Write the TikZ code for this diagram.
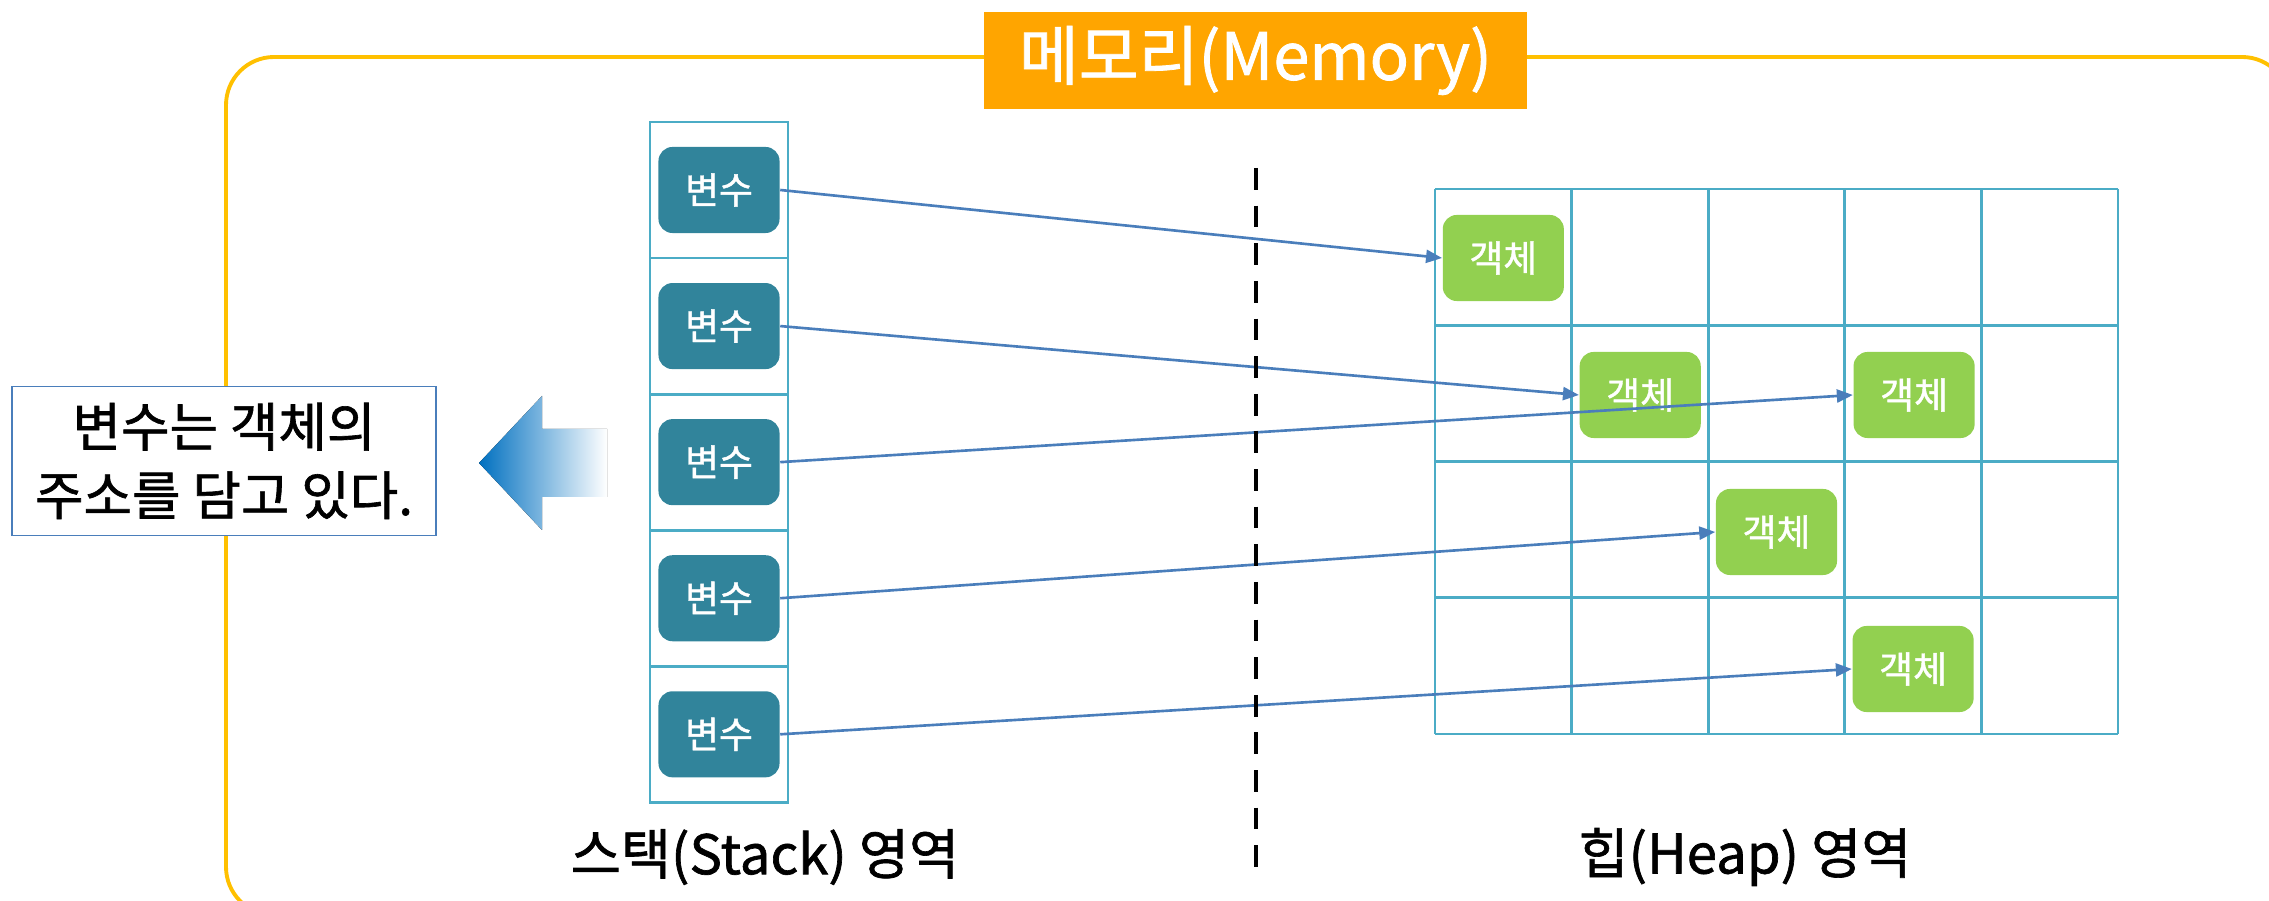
\documentclass[tikz,border=0pt]{standalone}
\usepackage{fontspec}
\setmainfont{Noto Sans CJK KR}[FakeBold=1.2]
\usepackage{tikz}
\usetikzlibrary{arrows.meta, positioning, shapes.geometric}
\definecolor{frameGold}{HTML}{FFC000}
\definecolor{titleOrange}{HTML}{FFA500}
\definecolor{cellBlue}{HTML}{4BACC6}
\definecolor{varTeal}{HTML}{31849B}
\definecolor{objGreen}{HTML}{92D050}
\definecolor{linkBlue}{HTML}{4A7EBB}
\definecolor{noteBlue}{HTML}{0070C0}

\begin{document}
\begin{tikzpicture}[
    x=0.01cm, y=-0.01cm,
    frame/.style={draw=frameGold, line width=1.1pt, rounded corners=0.48cm},
    title/.style={fill=titleOrange, text=white, font=\fontsize{18.5}{22}\selectfont,
                  minimum width=5.43cm, minimum height=0.97cm, inner sep=0pt},
    cell/.style={draw=cellBlue, line width=0.8pt, minimum width=1.38cm,
                 minimum height=1.36cm, inner sep=0pt, outer sep=0pt},
    var/.style={fill=varTeal, text=white, rounded corners=0.14cm,
                font=\fontsize{10.5}{12}\selectfont,
                minimum width=1.21cm, minimum height=0.86cm, inner sep=0pt},
    obj/.style={fill=objGreen, text=white, rounded corners=0.14cm,
                font=\fontsize{10.5}{12}\selectfont,
                minimum width=1.21cm, minimum height=0.86cm, inner sep=0pt},
    area/.style={font=\fontsize{15.5}{18}\selectfont, inner sep=0pt},
    note/.style={draw=linkBlue, fill=white, line width=0.5pt, align=center,
                 font=\fontsize{15}{19.5}\selectfont,
                 minimum width=4.24cm, minimum height=1.49cm},
    link/.style={-{Triangle[length=1.6mm, width=1.3mm]}, draw=linkBlue, line width=0.75pt},
    divider/.style={line width=1.25pt, dash pattern=on 6.2pt off 4.5pt},
]
\useasboundingbox (0,0) rectangle (2269,901);

% outer memory frame, cut off at the page edge
\begin{scope}
  \clip (0,0) rectangle (2269,901);
  \draw[frame] (226,57) rectangle (2290,915);
\end{scope}

\node[title] (mem) at (1255.5,60.5) {메모리(Memory)};

% stack column
\node[cell] (s1) at (719,190) {};
\node[cell, below=0pt of s1] (s2) {};
\node[cell, below=0pt of s2] (s3) {};
\node[cell, below=0pt of s3] (s4) {};
\node[cell, below=0pt of s4] (s5) {};

\node[var] (v1) at (s1) {변수};
\node[var] (v2) at (s2) {변수};
\node[var] (v3) at (s3) {변수};
\node[var] (v4) at (s4) {변수};
\node[var] (v5) at (s5) {변수};

% heap grid, 5 x 4 cells
\foreach \i in {0,...,5}
  \draw[cellBlue, line width=0.8pt] (1435+136.6*\i,189) -- (1435+136.6*\i,734);
\foreach \j in {0,...,4}
  \draw[cellBlue, line width=0.8pt] (1435,189+136.25*\j) -- (2118,189+136.25*\j);

\node[obj] (o1) at (1503.3,258) {객체};
\node[obj] (o2) at (1640.2,395) {객체};
\node[obj] (o3) at (1914.1,395) {객체};
\node[obj] (o4) at (1776.5,532) {객체};
\node[obj] (o5) at (1913.1,669) {객체};

\draw[link] (v1.east) -- (o1.west);
\draw[link] (v2.east) -- (o2.west);
\draw[link] (v3.east) -- (o3.west);
\draw[link] (v4.east) -- (o4.west);
\draw[link] (v5.east) -- (o5.west);

% dividing line between the two areas
\coordinate (divtop) at (1256,168);
\coordinate (divbot) at (1256,876);
\draw[divider] (divtop) -- (divbot);

\node[area] (stacklbl) at (765,857) {스택(Stack) 영역};
\node[area] (heaplbl) at (1745,857) {힙(Heap) 영역};

% note box with the fading arrow
\node[note] (note) at (224,461) {변수는 객체의\\주소를 담고 있다.};
\fill[left color=noteBlue, middle color=noteBlue!30, right color=white, draw=none]
  (479,463) -- (542,396) -- (542,429) -- (607,429) -- (607,497)
  -- (542,497) -- (542,530) -- cycle;
\end{tikzpicture}
\end{document}
